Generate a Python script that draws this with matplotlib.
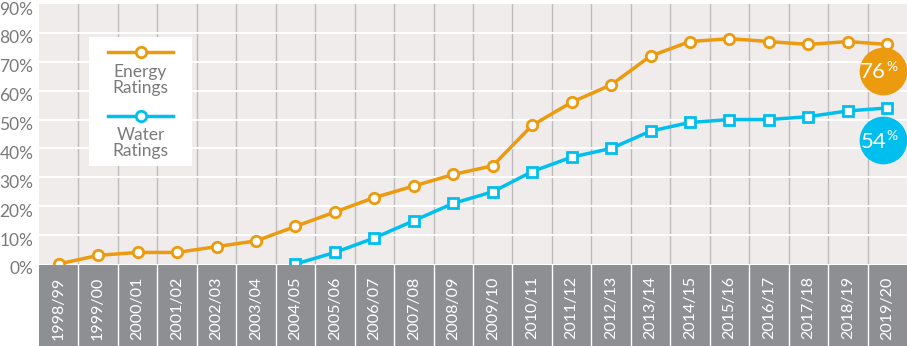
import numpy as np
import matplotlib.pyplot as plt
import matplotlib.transforms as mtransforms

plt.rcParams['font.family'] = ['Lato', 'DejaVu Sans']

years = ['1998/99', '1999/00', '2000/01', '2001/02', '2002/03', '2003/04',
         '2004/05', '2005/06', '2006/07', '2007/08', '2008/09', '2009/10',
         '2010/11', '2011/12', '2012/13', '2013/14', '2014/15', '2015/16',
         '2016/17', '2017/18', '2018/19', '2019/20']
energy = [0, 3, 4, 4, 6, 8, 13, 18, 23, 27, 31, 34, 48, 56, 62, 72, 77, 78, 77, 76, 77, 76]
# water ratings start in 2004/05
water_start = 6
water = [0, 4, 9, 15, 21, 25, 32, 37, 40, 46, 49, 50, 50, 51, 53, 54]

orange = '#ec9a0e'
blue = '#00bfef'
bg = '#efeceb'
textgrey = '#7a7a7a'

W, H = 907, 346
fig = plt.figure(figsize=(W / 100, H / 100), dpi=100)
left = 39 / W
ax = fig.add_axes([left, (H - 264) / H, 1 - left, 260 / H])
band = fig.add_axes([left, 0, 1 - left, (H - 265) / H])

x = np.arange(len(years))
xw = np.arange(water_start, len(years))

ax.set_facecolor(bg)
ax.set_xlim(-0.5, len(years) - 0.5)
ax.set_ylim(0, 90)
for b in np.arange(0.5, len(years) - 0.5):
    ax.axvline(b, color='#bdbcbc', lw=1, zorder=1)
for yv in range(10, 90, 10):
    ax.axhline(yv, color='white', lw=1.5, zorder=1)
ax.set_yticks(range(0, 91, 10))
ax.set_yticklabels([f'{v}%' for v in range(0, 91, 10)], fontsize=12.5, color=textgrey)
ax.tick_params(axis='y', length=0, pad=4)
# nudge the percent labels a little below their gridlines
shift = mtransforms.ScaledTranslation(0, -4 / 100, fig.dpi_scale_trans)
for lbl in ax.get_yticklabels():
    lbl.set_transform(lbl.get_transform() + shift)
ax.set_xticks([])
for s in ax.spines.values():
    s.set_visible(False)

ax.plot(x, energy, color=orange, lw=2.5, marker='o', ms=7.5, mfc='white',
        mec=orange, mew=2, zorder=4, clip_on=False)
ax.plot(xw, water, color=blue, lw=2.5, marker='s', ms=6.5, mfc='white',
        mec=blue, mew=2, zorder=3, clip_on=False)

# end-of-series value bubbles
for val, yc, col in [(energy[-1], 66.8, orange), (water[-1], 42.8, blue)]:
    ax.scatter([20.88], [yc], s=1180, color=col, zorder=5, clip_on=False, lw=0)
    ax.text(20.97, yc - 0.5, f'{val}', color='white', fontsize=16, ha='right', va='center', zorder=6)
    ax.text(20.98, yc + 1.5, '%', color='white', fontsize=10, ha='left', va='center', zorder=6)

# legend box
lax = fig.add_axes([89 / W, (H - 166) / H, 103 / W, 129 / H])
lax.set_xlim(0, 1)
lax.set_ylim(0, 1)
lax.set_facecolor('white')
lax.set_xticks([])
lax.set_yticks([])
for s in lax.spines.values():
    s.set_visible(False)
lax.plot([0.18, 0.82], [0.88, 0.88], color=orange, lw=2.5)
lax.plot([0.5], [0.88], 'o', ms=7.5, mfc='white', mec=orange, mew=2)
lax.text(0.5, 0.665, 'Energy\nRatings', ha='center', va='center', fontsize=12.5,
         color=textgrey, linespacing=1.0)
lax.plot([0.18, 0.82], [0.39, 0.39], color=blue, lw=2.5)
lax.plot([0.5], [0.39], 'o', ms=7.5, mfc='white', mec=blue, mew=2)
lax.text(0.5, 0.175, 'Water\nRatings', ha='center', va='center', fontsize=12.5,
         color=textgrey, linespacing=1.0)

# year band below the plot
band.set_facecolor('#8e8f93')
band.set_xlim(-0.5, len(years) - 0.5)
band.set_ylim(0, 1)
band.set_xticks([])
band.set_yticks([])
for s in band.spines.values():
    s.set_visible(False)
for b in np.arange(0.5, len(years) - 0.5):
    band.axvline(b, color='white', lw=1)
for i, yr in enumerate(years):
    band.text(i, 0.86, yr, rotation=90, ha='center', va='top', color='white', fontsize=11.5)

fig.savefig('out.png', dpi=100)
